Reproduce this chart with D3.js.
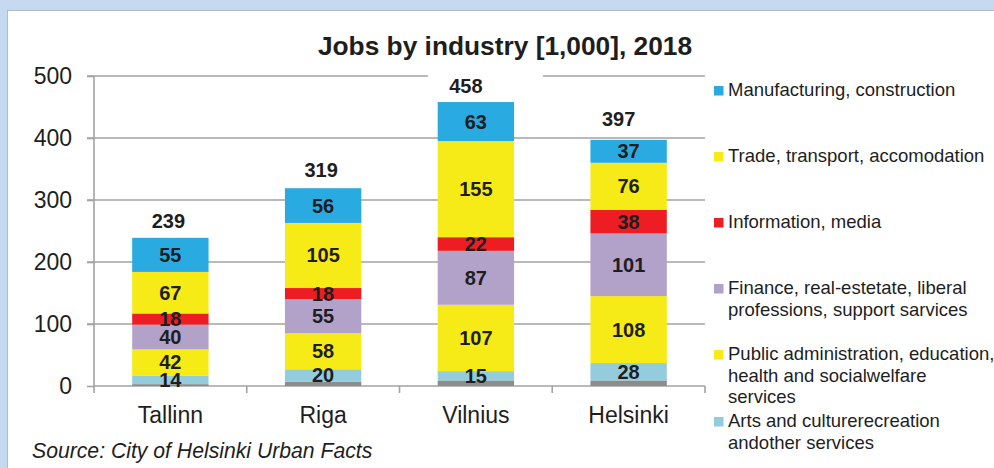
<!DOCTYPE html>
<html>
<head>
<meta charset="utf-8">
<script src="https://cdn.jsdelivr.net/npm/d3@7"></script>
<style>
  html, body { margin: 0; padding: 0; background: #c6d9f0; }
  svg { display: block; font-family: "Liberation Sans", Arial, sans-serif; }
</style>
</head>
<body>
<svg id="chart" width="994" height="468"></svg>
<script>
// Jobs by industry (thousands), 2018
const cities = ["Tallinn", "Riga", "Vilnius", "Helsinki"];
const totals = [239, 319, 458, 397];

const manufacturing = [55, 56, 63, 37];
const trade = [67, 105, 155, 76];
const information = [18, 18, 22, 38];
const finance = [40, 55, 87, 101];
const publicAdmin = [42, 58, 107, 108];
const arts = [14, 20, 15, 28];
const unspecified = [3, 7, 9, 9];

const yTicks = [0, 100, 200, 300, 400, 500];

// Legend entries, top to bottom (text lines per entry)
const legendItems = [
  { key: "manufacturing", lines: ["Manufacturing, construction"] },
  { key: "trade", lines: ["Trade, transport, accomodation"] },
  { key: "information", lines: ["Information, media"] },
  { key: "finance", lines: ["Finance, real-estetate, liberal", "professions, support sarvices"] },
  { key: "publicAdmin", lines: ["Public administration, education,", "health and socialwelfare", "services"] },
  { key: "arts", lines: ["Arts and culturerecreation", "andother services"] }
];

const colors = {
  unspecified: "#8c8c8c",
  arts: "#93cddd",
  publicAdmin: "#f6eb16",
  finance: "#b2a1c9",
  information: "#ee1d24",
  trade: "#f6eb16",
  manufacturing: "#29abe2"
};

const series = { manufacturing, trade, information, finance, publicAdmin, arts, unspecified };
const stackKeys = ["unspecified", "arts", "publicAdmin", "finance", "information", "trade", "manufacturing"];
const labelledKeys = new Set(["arts", "publicAdmin", "finance", "information", "trade", "manufacturing"]);

const rows = cities.map((c, i) => {
  const r = { city: c };
  stackKeys.forEach(k => r[k] = series[k][i]);
  return r;
});

const svg = d3.select("#chart");
const ink = "#1e1e1e";
const gridColor = "#a3a3a3";

// white panel
svg.append("rect")
  .attr("x", 7.5).attr("y", 10.5)
  .attr("width", 1000).attr("height", 470)
  .attr("fill", "#ffffff")
  .attr("stroke", "#aebccc").attr("stroke-width", 1);

const plot = { left: 94, right: 705, top: 76, bottom: 386 };

const x = d3.scaleBand()
  .domain(cities)
  .range([plot.left, plot.right])
  .paddingInner(0.5).paddingOuter(0.25);

const y = d3.scaleLinear()
  .domain([0, 500])
  .range([plot.bottom, plot.top]);

// horizontal gridlines
svg.append("g")
  .selectAll("line")
  .data(yTicks.filter(t => t > 0))
  .join("line")
  .attr("x1", plot.left - 7).attr("x2", plot.right)
  .attr("y1", d => y(d)).attr("y2", d => y(d))
  .attr("stroke", gridColor).attr("stroke-width", 1.6);

// y axis
const yAxis = svg.append("g")
  .attr("transform", `translate(${plot.left},0)`)
  .call(d3.axisLeft(y).tickValues(yTicks).tickSize(7).tickPadding(15));
yAxis.select(".domain").attr("stroke", gridColor).attr("stroke-width", 1.6)
  .attr("d", `M0,${plot.top}V${plot.bottom + 7}`);
yAxis.selectAll(".tick line").attr("stroke", gridColor).attr("stroke-width", 1.6);
yAxis.selectAll(".tick text")
  .attr("fill", ink)
  .style("font-size", "23px")
  .style("font-family", "'Liberation Sans', Arial, sans-serif");

// x axis: ticks on category boundaries
const boundaries = d3.range(cities.length + 1).map(i => plot.left + i * x.step());
const xAxis = svg.append("g");
xAxis.append("line")
  .attr("x1", plot.left).attr("x2", plot.right)
  .attr("y1", plot.bottom).attr("y2", plot.bottom)
  .attr("stroke", gridColor).attr("stroke-width", 1.6);
xAxis.selectAll("line.tk")
  .data(boundaries.slice(1))
  .join("line")
  .attr("class", "tk")
  .attr("x1", d => d).attr("x2", d => d)
  .attr("y1", plot.bottom).attr("y2", plot.bottom + 7)
  .attr("stroke", gridColor).attr("stroke-width", 1.6);
xAxis.selectAll("text")
  .data(cities)
  .join("text")
  .attr("x", d => x(d) + x.bandwidth() / 2)
  .attr("y", 423)
  .attr("text-anchor", "middle")
  .attr("fill", ink)
  .style("font-size", "23px")
  .text(d => d);

// stacked bars
const stacked = d3.stack().keys(stackKeys)(rows);

const layers = svg.append("g")
  .selectAll("g")
  .data(stacked)
  .join("g")
  .attr("fill", d => colors[d.key]);

layers.selectAll("rect")
  .data(d => d)
  .join("rect")
  .attr("x", d => x(d.data.city))
  .attr("width", x.bandwidth())
  .attr("y", d => y(d[1]))
  .attr("height", d => y(d[0]) - y(d[1]));

// segment value labels
const labelG = svg.append("g");
stacked.filter(s => labelledKeys.has(s.key)).forEach(s => {
  labelG.selectAll(null)
    .data(s)
    .join("text")
    .attr("x", d => x(d.data.city) + x.bandwidth() / 2)
    .attr("y", d => (y(d[0]) + y(d[1])) / 2 + 7)
    .attr("text-anchor", "middle")
    .attr("fill", ink)
    .style("font-size", "20px")
    .style("font-weight", "bold")
    .text(d => d[1] - d[0]);
});

// total labels above each bar
const totalShift = [{ dx: -2, dy: -10 }, { dx: -2, dy: -11 }, { dx: -10, dy: -9 }, { dx: -10, dy: -14 }];
const totalsG = svg.append("g");
cities.forEach((c, i) => {
  const cx = x(c) + x.bandwidth() / 2 + totalShift[i].dx;
  const by = y(totals[i]) + totalShift[i].dy;
  totalsG.append("rect")
    .attr("x", cx - 38).attr("y", by - 19)
    .attr("width", 115).attr("height", 25)
    .attr("fill", "#ffffff");
  totalsG.append("text")
    .attr("x", cx).attr("y", by)
    .attr("text-anchor", "middle")
    .attr("fill", ink)
    .style("font-size", "20px")
    .style("font-weight", "bold")
    .text(totals[i]);
});

// title
svg.append("text")
  .attr("x", 505).attr("y", 55)
  .attr("text-anchor", "middle")
  .attr("fill", ink)
  .style("font-size", "26.3px")
  .style("font-weight", "bold")
  .text("Jobs by industry [1,000], 2018");

// legend
const legendBaselines = [96, 162, 228, 294, 360, 427];
const lineH = 21.5;
const legend = svg.append("g");
legendItems.forEach((item, i) => {
  const b = legendBaselines[i];
  legend.append("rect")
    .attr("x", 714).attr("y", b - 10)
    .attr("width", 9.5).attr("height", 9.5)
    .attr("fill", colors[item.key]);
  const t = legend.append("text")
    .attr("x", 728).attr("y", b)
    .attr("fill", ink)
    .style("font-size", "18.5px");
  item.lines.forEach((ln, j) => {
    t.append("tspan").attr("x", 728).attr("y", b + j * lineH).text(ln);
  });
});

// source note
svg.append("text")
  .attr("x", 32).attr("y", 458)
  .attr("fill", ink)
  .style("font-size", "21.2px")
  .style("font-style", "italic")
  .text("Source: City of Helsinki Urban Facts");
</script>
</body>
</html>
